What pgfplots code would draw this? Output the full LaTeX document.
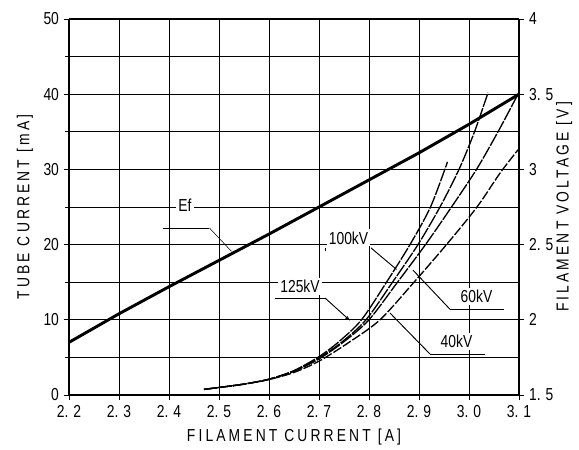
\documentclass[border=0pt]{standalone}
\usepackage{pgfplots}
\pgfplotsset{compat=1.18}
\usepackage{fontspec}
\setmainfont[FakeStretch=0.8]{Liberation Sans}
\newfontfamily\spaced[FakeStretch=0.8,LetterSpace=18]{Liberation Sans}
\usetikzlibrary{arrows.meta}
\tikzset{lab/.style={fill=white, inner sep=1.5pt, font=\fontsize{13}{14}\selectfont}}

\begin{document}
\begin{tikzpicture}
\pgfplotsset{
  every axis/.append style={
    scale only axis, width=337.5pt, height=282pt,
    xmin=2.2, xmax=3.1,
    tick align=outside, tick style={black, line width=0.7pt},
    major tick length=4pt,
    /pgf/number format/assume math mode=true,
    tick label style={font=\fontsize{13}{14}\selectfont},
    label style={font=\spaced\fontsize{13}{14}\selectfont},
  },
  curve/.style={black, line width=1pt, smooth, dash pattern=on 10pt off 1pt},
}
\begin{axis}[name=a,
  ymin=0, ymax=50,
  axis x line*=bottom, axis y line*=left,
  axis line style={line width=0.8pt},
  y axis line style={line width=1.6pt},
  xtick={2.2,2.3,...,3.1},
  xticklabels={2. 2,2. 3,2. 4,2. 5,2. 6,2. 7,2. 8,2. 9,3. 0,3. 1},
  ytick={0,10,...,50}, minor ytick={5,15,...,45},
  grid=both,
  major grid style={black, line width=0.6pt},
  minor grid style={black, line width=0.6pt},
  xlabel={FILAMENT CURRENT [A]},
  ylabel={TUBE CURRENT [mA]},
  xlabel style={yshift=-2pt},
  ylabel style={yshift=1pt},
  clip=false,
]
% top border
\draw[black, line width=0.8pt] (rel axis cs:0,1) -- (rel axis cs:1,1);

% 125 kV
\addplot[curve] coordinates {
 (2.47,0.75) (2.5,1.0) (2.55,1.45) (2.6,2.1) (2.65,3.25) (2.7,5.1)
 (2.74,7.1) (2.785,10) (2.835,15) (2.882,20) (2.923,25) (2.957,31)
};
% 100 kV
\addplot[curve] coordinates {
 (2.47,0.75) (2.5,1.0) (2.55,1.45) (2.6,2.1) (2.65,3.2) (2.7,4.95)
 (2.745,7.0) (2.794,10) (2.847,15) (2.898,20) (2.942,25) (2.98,30)
 (3.011,35) (3.038,40.2)
};
% 60 kV
\addplot[curve] coordinates {
 (2.47,0.75) (2.5,1.0) (2.55,1.45) (2.6,2.1) (2.65,3.15) (2.7,4.8)
 (2.75,7.1) (2.80,10) (2.857,15) (2.913,20) (2.965,25) (3.015,30)
 (3.058,35) (3.098,40)
};
% 40 kV
\addplot[curve, dash pattern=on 7pt off 1.5pt] coordinates {
 (2.47,0.75) (2.5,1.0) (2.55,1.45) (2.6,2.05) (2.65,3.0) (2.7,4.5)
 (2.76,7.0) (2.822,10) (2.89,15) (2.955,20) (3.016,25) (3.062,29.5)
 (3.098,32.6)
};

% labels and leaders
\node[lab] at (axis cs:2.432,25.2) {Ef};
\draw[line width=0.7pt] (axis cs:2.388,22.2) -- (axis cs:2.481,22.2);
\draw[line width=0.4pt] (axis cs:2.481,22.2) -- (axis cs:2.525,19.1);

\node[lab] at (axis cs:2.759,20.9) {100kV};
\draw[line width=0.7pt] (axis cs:2.712,19.6) -- (axis cs:2.712,19.2);
\draw[line width=0.7pt] (axis cs:2.805,19.6) -- (axis cs:2.805,19.5) -- (axis cs:2.855,16.7);

\node[lab] at (axis cs:2.662,14.4) {125kV};
\draw[line width=0.7pt] (axis cs:2.612,12.9) -- (axis cs:2.712,12.9);
\draw[line width=0.7pt, -{Stealth[length=4pt,width=2.5pt]}] (axis cs:2.712,12.9) -- (axis cs:2.762,9.9);

\node[lab] at (axis cs:3.015,13.1) {60kV};
\draw[line width=0.7pt] (axis cs:2.962,11.4) -- (axis cs:3.069,11.4);
\draw[line width=0.7pt] (axis cs:2.962,11.4) -- (axis cs:2.888,16.6);

\node[lab] at (axis cs:2.975,7.1) {40kV};
\draw[line width=0.7pt] (axis cs:2.922,5.45) -- (axis cs:3.032,5.45);
\draw[line width=0.7pt] (axis cs:2.922,5.45) -- (axis cs:2.842,10.9);
\end{axis}

\begin{axis}[
  ymin=1.5, ymax=4,
  axis x line=none, axis y line*=right,
  y axis line style={line width=1.6pt},
  ytick={1.5,2,...,4},
  yticklabels={1. 5,2,2. 5,3,3. 5,4},
  ylabel={FILAMENT VOLTAGE [V]},
  ylabel style={yshift=5pt},
]
\addplot[black, line width=2.2pt] coordinates {
 (2.2,1.85) (2.3,2.04) (2.4,2.22) (2.5,2.395) (2.6,2.57) (2.7,2.75)
 (2.8,2.93) (2.9,3.11) (3.0,3.30) (3.1,3.50)
};
\end{axis}

\pgfresetboundingbox
\path[use as bounding box] ([shift={(-51.75pt,-41.25pt)}]a.south west)
  rectangle ([shift={(45pt,14.25pt)}]a.north east);
\end{tikzpicture}
\end{document}
